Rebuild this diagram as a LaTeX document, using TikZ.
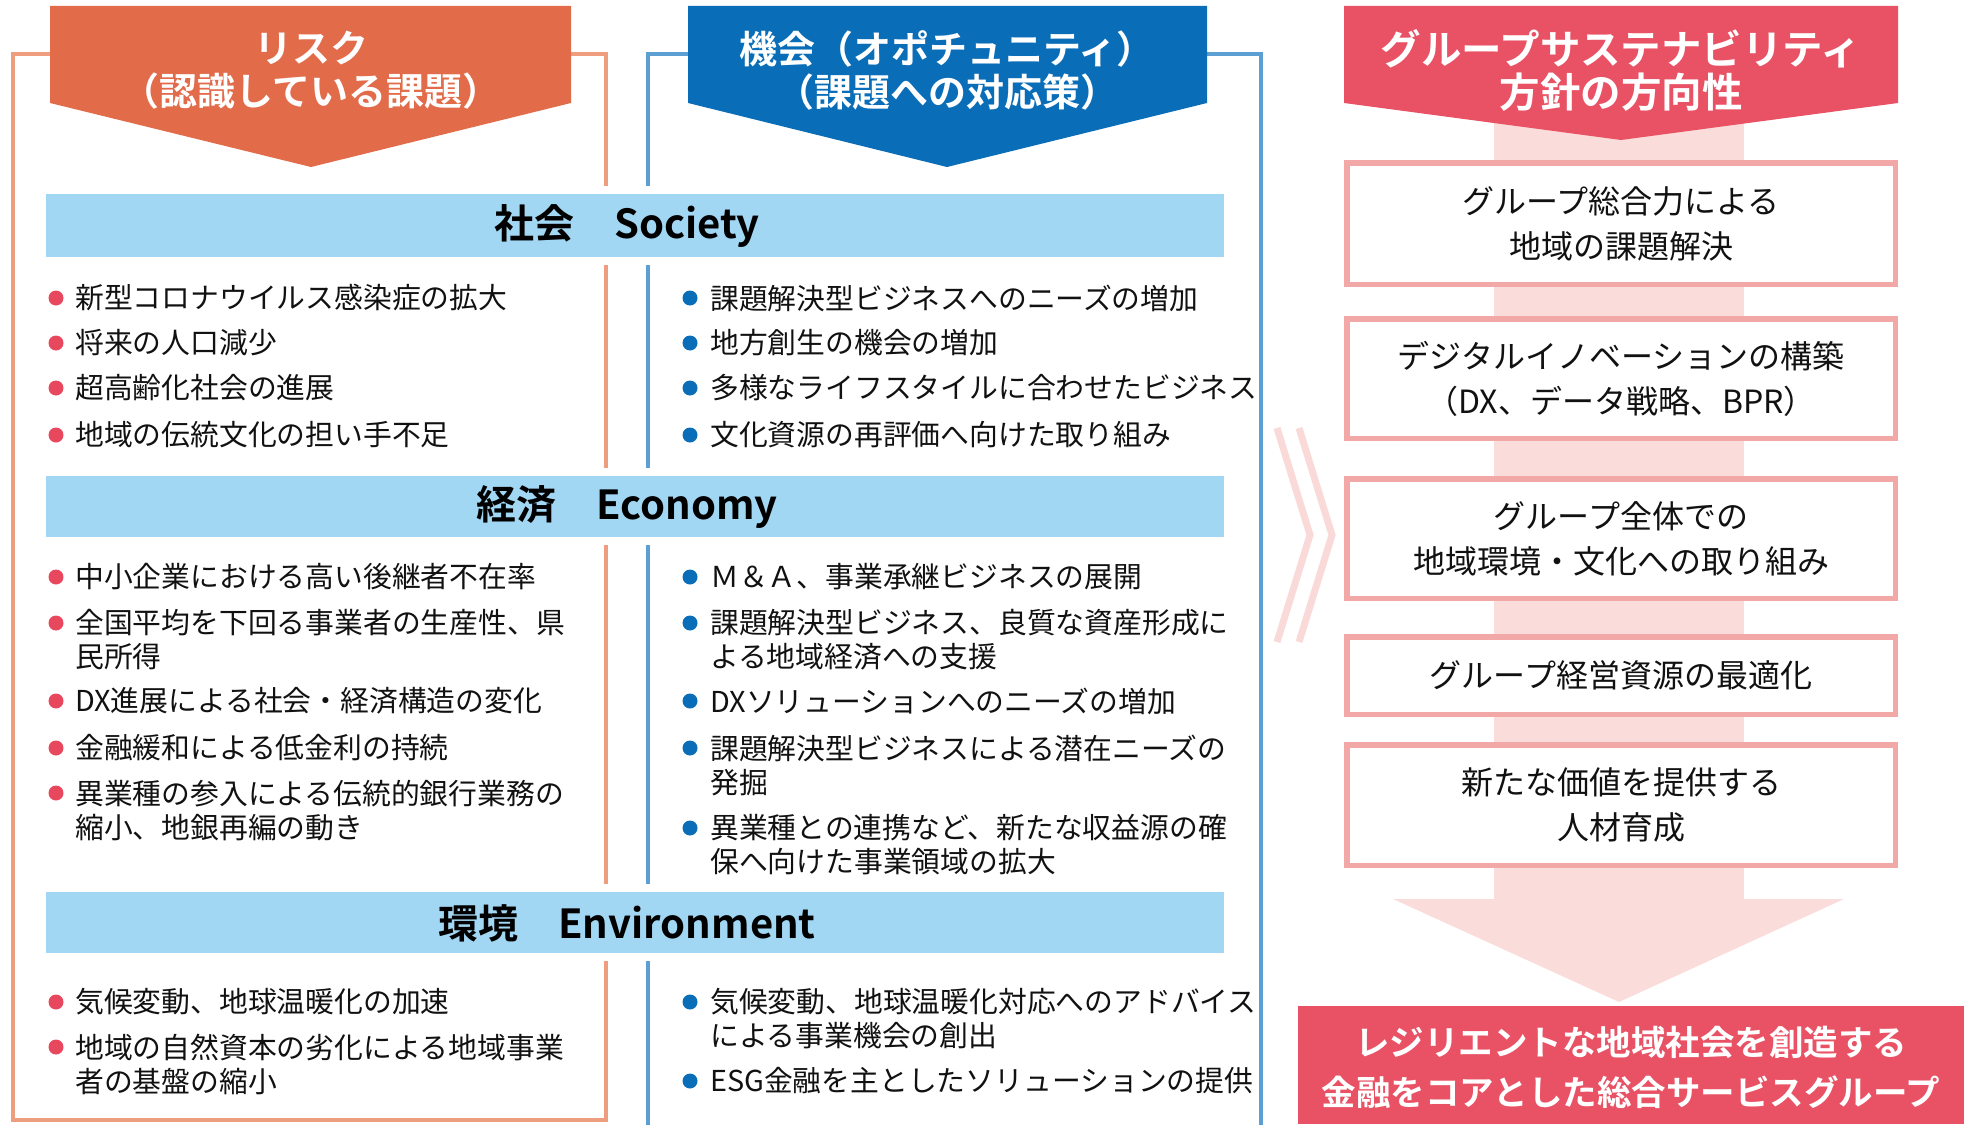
\documentclass[tikz,border=0pt]{standalone}
\usepackage{fontspec}
\setmainfont{Noto Sans CJK JP}[BoldFont={Noto Sans CJK JP Bold}]
\definecolor{obanner}{HTML}{E26B4A}
\definecolor{oframe}{HTML}{EE9E7E}
\definecolor{bbanner}{HTML}{0A6DB7}
\definecolor{bframe}{HTML}{5B9FD3}
\definecolor{lbar}{HTML}{A2D7F4}
\definecolor{rbanner}{HTML}{E85264}
\definecolor{pborder}{HTML}{F3A8A8}
\definecolor{pband}{HTML}{FADDDA}
\definecolor{chev}{HTML}{FADAD8}
\definecolor{bulr}{HTML}{E8485E}
\definecolor{bulb}{HTML}{0A6DB7}
\definecolor{txt}{HTML}{111111}
\newcommand{\LItem}[4]{%
  \node[rdot] (#1b) at (56,#2) {};
  \node[itemtxt] (#1) at (75,#3) {#4};}
\newcommand{\RItem}[4]{%
  \node[bdot] (#1b) at (690,#2) {};
  \node[itemtxt] (#1) at (710,#3) {#4};}
\begin{document}
\begin{tikzpicture}[x=1pt,y=-1pt,
  oline/.style={draw=oframe, line width=4.5pt},
  bline/.style={draw=bframe, line width=4.5pt},
  bannertxt/.style={text=white, font=\bfseries\fontsize{38}{43}\selectfont, align=center, inner sep=0pt},
  bartxt/.style={text=black, font=\bfseries\fontsize{40}{42}\selectfont, inner sep=0pt},
  itemtxt/.style={anchor=west, inner sep=0pt, align=left, text=txt, font=\fontsize{28.8}{34}\selectfont},
  rdot/.style={circle, fill=bulr, inner sep=0pt, minimum size=15pt},
  bdot/.style={circle, fill=bulb, inner sep=0pt, minimum size=15pt},
  pbox/.style={draw=pborder, line width=5.5pt, fill=white, minimum width=548.5pt, align=center, text=txt, font=\fontsize{32}{45}\selectfont},
  chevline/.style={draw=chev, line width=7pt},
]
\useasboundingbox (0,0) rectangle (1964,1124);
% frames
\draw[oline] (50,54) -- (13,54) -- (13,1120) -- (606,1120) -- (606,54) -- (571,54);
\draw[bline] (688,54) -- (648,54) -- (648,1140);
\draw[bline] (1207,54) -- (1261,54) -- (1261,1140);
% bars with white halo
\foreach \ya/\yb in {194/257, 476/537, 892/953}{
  \fill[white] (38,\ya-8) rectangle (1232,\yb+8);
  \fill[lbar] (46,\ya) rectangle (1224,\yb);
}
\node[bartxt] (society) at (627,226) {社会　Society};
\node[bartxt] (economy) at (627,507) {経済　Economy};
\node[bartxt] (environment) at (627,923) {環境　Environment};
% banners
\fill[obanner] (50,6) -- (571,6) -- (571,103) -- (311,167) -- (50,103) -- cycle;
\node[bannertxt] (risk) at (311,70) {リスク\\（認識している課題）};
\fill[bbanner] (688,6) -- (1207,6) -- (1207,103) -- (947,167) -- (688,103) -- cycle;
\node[bannertxt] (opp) at (947,70) {機会（オポチュニティ）\\（課題への対応策）};
% right column
\fill[pband] (1494,100) rectangle (1744,900);
\fill[pband] (1393,899) -- (1844,899) -- (1619,1002) -- cycle;
\fill[rbanner] (1344,6) -- (1898,6) -- (1898,103) -- (1621,140) -- (1344,103) -- cycle;
\node[bannertxt, font=\bfseries\fontsize{40.5}{43}\selectfont] (policy) at (1621,70) {グループサステナビリティ\\方針の方向性};
\node[pbox, minimum height=121.5pt] (p1) at (1621,223.5) {グループ総合力による\\地域の課題解決};
\node[pbox, minimum height=119.5pt] (p2) at (1621,378.5) {デジタルイノベーションの構築\\（DX、データ戦略、BPR）};
\node[pbox, minimum height=119.5pt] (p3) at (1621,538.5) {グループ全体での\\地域環境・文化への取り組み};
\node[pbox, minimum height=77.5pt] (p4) at (1621,675.5) {グループ経営資源の最適化};
\node[pbox, minimum height=120.5pt] (p5) at (1621,805) {新たな価値を提供する\\人材育成};
\fill[rbanner] (1298,1006) rectangle (1964,1124);
\node[bannertxt, font=\bfseries\fontsize{34.5}{50}\selectfont] (goal) at (1631,1067) {レジリエントな地域社会を創造する\\金融をコアとした総合サービスグループ};
% chevrons
\draw[chevline] (1277,428) -- (1310,535) -- (1277,642);
\draw[chevline] (1299,428) -- (1332,535) -- (1299,642);
% society items
\LItem{sl1}{298}{298}{新型コロナウイルス感染症の拡大}
\LItem{sl2}{343}{343}{将来の人口減少}
\LItem{sl3}{388}{388}{超高齢化社会の進展}
\LItem{sl4}{435}{435}{地域の伝統文化の担い手不足}
\RItem{sr1}{298}{298}{課題解決型ビジネスへのニーズの増加}
\RItem{sr2}{343}{343}{地方創生の機会の増加}
\RItem{sr3}{388}{388}{多様なライフスタイルに合わせたビジネス}
\RItem{sr4}{435}{435}{文化資源の再評価へ向けた取り組み}
% economy items
\LItem{el1}{577}{577}{中小企業における高い後継者不在率}
\LItem{el2}{623}{639.5}{全国平均を下回る事業者の生産性、県\\民所得}
\LItem{el3}{701}{701}{DX進展による社会・経済構造の変化}
\LItem{el4}{748}{748}{金融緩和による低金利の持続}
\LItem{el5}{793}{810.5}{異業種の参入による伝統的銀行業務の\\縮小、地銀再編の動き}
\RItem{er1}{577}{577}{Ｍ＆Ａ、事業承継ビジネスの展開}
\RItem{er2}{623}{639.5}{課題解決型ビジネス、良質な資産形成に\\よる地域経済への支援}
\RItem{er3}{701}{701}{DXソリューションへのニーズの増加}
\RItem{er4}{748}{765}{課題解決型ビジネスによる潜在ニーズの\\発掘}
\RItem{er5}{828}{845}{異業種との連携など、新たな収益源の確\\保へ向けた事業領域の拡大}
% environment items
\LItem{nl1}{1002}{1002}{気候変動、地球温暖化の加速}
\LItem{nl2}{1047}{1064}{地域の自然資本の劣化による地域事業\\者の基盤の縮小}
\RItem{nr1}{1002}{1019}{気候変動、地球温暖化対応へのアドバイス\\による事業機会の創出}
\RItem{nr2}{1081}{1081}{ESG金融を主としたソリューションの提供}
\end{tikzpicture}
\end{document}
